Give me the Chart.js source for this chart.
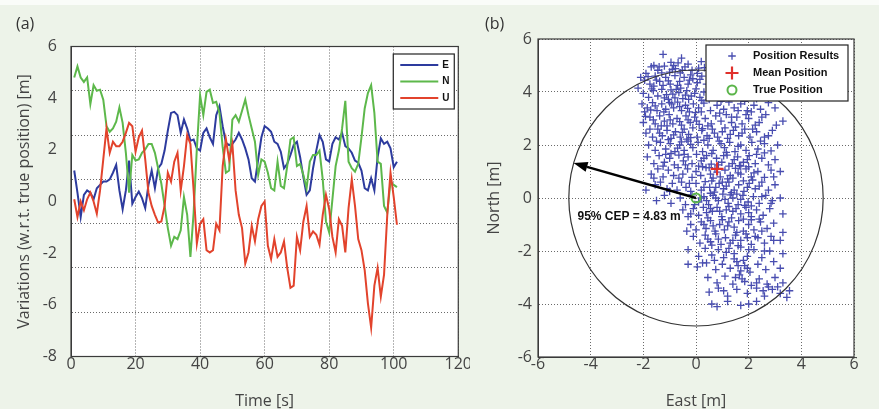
<!DOCTYPE html>
<html>
<head>
<meta charset="utf-8">
<script src="https://cdn.jsdelivr.net/npm/chart.js@4.4.1/dist/chart.umd.min.js"></script>
<style>
  html, body { margin: 0; padding: 0; }
  body { width: 879px; height: 409px; background: #edf3e9; position: relative; overflow: hidden; font-family: 'Open Sans', sans-serif; }
  .strip { position: absolute; left: 0; top: 0; width: 879px; height: 5px; background: #fafcf9; }
  .panel { position: absolute; top: 0; height: 409px; }
  #wrapA { left: 0; width: 470px; }
  #wrapB { left: 470px; width: 409px; }
  .tag { position: absolute; top: 12px; font-size: 16px; color: #333; }
</style>
</head>
<body>
<div class="strip"></div>
<div class="panel" id="wrapA"><canvas id="chartA" width="470" height="409"></canvas></div>
<div class="panel" id="wrapB"><canvas id="chartB" width="409" height="409"></canvas></div>
<div class="tag" style="left:16px">(a)</div>
<div class="tag" style="left:485px">(b)</div>
<script>
// (a) ENU variations over time, one sample per second
const TIME = [1,2,3,4,5,6,7,8,9,10,11,12,13,14,15,16,17,18,19,20,
  21,22,23,24,25,26,27,28,29,30,31,32,33,34,35,36,37,38,39,40,
  41,42,43,44,45,46,47,48,49,50,51,52,53,54,55,56,57,58,59,60,
  61,62,63,64,65,66,67,68,69,70,71,72,73,74,75,76,77,78,79,80,
  81,82,83,84,85,86,87,88,89,90,91,92,93,94,95,96,97,98,99,100,101];

const EAST = [0.4,-0.6,-1.7,-0.7,-0.5,-0.6,-0.9,-0.4,-0.25,-0.1,
  -0.1,0.0,0.3,0.65,-0.5,-1.35,-0.5,0.85,-1.1,-0.8,
  -0.55,-0.85,-1.3,-0.25,0.4,-0.4,0.5,0.7,1.3,2.2,
  3.0,3.05,2.9,2.1,2.7,2.3,1.75,1.8,1.4,1.3,
  2.1,2.3,1.9,1.6,2.9,3.3,2.4,1.65,1.55,1.6,
  1.8,2.1,1.8,1.4,0.9,0.05,-0.1,0.9,1.9,2.4,
  2.3,2.15,1.7,1.6,1.25,0.5,0.7,1.1,1.55,1.7,
  1.0,0.1,-0.7,-0.5,0.5,1.3,2.0,1.7,0.9,0.8,
  1.6,1.9,1.8,2.1,1.5,1.4,1.2,0.85,0.75,0.4,
  -0.4,-0.5,0.05,-0.5,1.0,1.85,1.6,1.7,1.4,0.55,
  0.8];

const NORTH = [4.6,5.1,4.6,4.4,4.6,3.4,4.25,4.0,4.05,3.6,
  2.4,2.15,2.3,2.6,3.25,2.55,1.2,-0.6,1.1,0.85,
  0.9,1.2,1.35,1.6,1.6,1.2,0.5,-0.2,-1.2,-2.2,
  -3.0,-2.6,-2.7,-2.3,-0.8,-1.6,-3.5,-1.5,1.4,3.8,
  2.9,3.95,4.05,3.45,3.5,3.0,1.45,0.3,0.4,2.7,
  2.9,2.6,3.1,3.6,2.9,2.3,1.7,0.2,0.9,0.8,
  0.3,-0.4,-0.5,0.8,-0.3,-0.4,0.6,1.8,1.9,0.6,
  0.7,0.2,-0.4,0.8,1.1,1.1,1.3,0.0,-1.9,-2.4,
  -0.9,0.6,1.3,2.3,3.55,0.8,0.5,0.35,0.7,1.9,
  3.2,3.9,4.25,3.0,0.8,0.7,-1.2,-1.5,-0.1,-0.25,
  -0.35];

const UP = [-0.9,-1.7,-1.0,-1.4,-0.9,-0.6,-1.0,-1.55,-0.5,0.9,
  2.3,1.2,1.7,1.5,1.5,1.7,2.1,2.55,2.4,1.25,
  1.9,2.2,0.9,-0.6,-1.2,-1.6,-1.95,-1.9,-1.2,0.3,
  -0.1,0.8,1.2,-0.5,0.6,2.0,1.6,-0.5,-2.9,-2.0,
  -1.8,-3.2,-3.3,-3.2,-2.0,-2.3,0.6,1.8,0.9,1.6,
  -0.5,-1.6,-2.2,-3.8,-3.3,-2.1,-2.8,-1.8,-1.2,-1.0,
  -3.0,-3.6,-2.7,-3.5,-3.3,-2.8,-4.0,-4.9,-4.8,-2.6,
  -3.2,-1.9,-1.2,-2.6,-2.35,-2.5,-2.95,-1.6,-0.7,-1.35,
  -2.6,-3.3,-1.8,-2.1,-3.3,-1.3,0.0,-1.2,-2.7,-3.2,
  -4.1,-5.6,-6.7,-4.8,-4.0,-5.3,-4.3,-1.6,0.3,-0.8,
  -2.05];

// tick labels printed down the left side of (a)
const Y_LABELS_A = ['6', '4', '2', '0', '-2', '-6', '-8'];

// (b) horizontal position fixes [east, north] in metres
const POSITIONS = [
  [-1.25,5.42],[-0.55,5.28],[-0.95,5.12],[-0.3,5.05],[0.2,5.15],[-1.6,5.0],
  [-1.9,4.7],[-1.7,4.95],[-1.45,4.82],[-1.2,4.98],[-1.0,4.75],[-0.78,4.88],[-0.6,4.72],[-0.42,4.95],
  [-0.15,4.82],[0.05,4.7],[0.32,4.92],[0.6,4.78],[-1.3,4.72],[-0.85,5.0],[0.85,4.85],[-2.1,4.55],
  [-2.2,4.15],[-1.95,4.45],[-1.75,4.3],[-1.55,4.6],[-1.38,4.4],[-1.15,4.55],[-0.98,4.3],[-0.8,4.62],
  [-0.62,4.4],[-0.45,4.55],[-0.3,4.3],[-0.12,4.5],[0.05,4.35],[0.22,4.6],[0.4,4.3],[-1.6,4.22],
  [-1.25,4.25],[-0.7,4.25],[-0.2,4.65],[0.55,4.5],
  [-2.0,3.95],[-1.8,3.8],[-1.62,4.05],[-1.45,3.85],[-1.3,4.1],[-1.12,3.9],[-0.95,4.08],[-0.8,3.78],
  [-0.65,3.98],[-0.5,3.75],[-0.35,4.05],[-0.18,3.85],[0.0,4.12],[0.15,3.8],[0.3,4.0],[0.5,3.72],
  [-1.05,3.72],[-0.28,3.72],[1.0,3.75],[1.5,3.8],[2.3,3.75],[2.7,3.9],
  [-1.85,3.4],[-1.65,3.6],[-1.48,3.3],[-1.3,3.55],[-1.15,3.35],[-1.0,3.6],[-0.85,3.4],[-0.7,3.62],
  [-0.55,3.3],[-0.4,3.5],[-0.25,3.25],[-0.1,3.55],[0.1,3.4],[0.3,3.58],[0.55,3.3],[0.8,3.5],
  [1.05,3.35],[1.25,3.62],[1.45,3.4],[1.7,3.55],[1.95,3.3],[2.2,3.5],[2.45,3.35],[2.75,3.6],
  [3.0,3.4],[-1.95,3.25],[0.95,3.65],[1.85,3.65],
  [-2.0,2.85],[-1.75,3.05],[-1.55,2.8],[-1.38,3.1],[-1.2,2.9],[-1.02,3.15],[-0.88,2.8],[-0.72,3.0],
  [-0.55,2.75],[-0.38,3.1],[-0.22,2.85],[-0.05,3.05],[0.12,2.78],[0.35,3.0],[0.58,2.8],[0.75,3.1],
  [0.95,2.9],[1.15,3.15],[1.35,2.85],[1.55,3.05],[1.75,2.8],[2.0,3.0],[2.25,2.75],[2.5,3.05],
  [3.3,2.9],[3.05,2.75],[-1.1,2.72],[0.45,2.72],[1.9,3.15],
  [-1.9,2.45],[-1.65,2.3],[-1.45,2.6],[-1.28,2.35],[-1.1,2.55],[-0.95,2.25],[-0.78,2.5],[-0.6,2.3],
  [-0.45,2.6],[-0.28,2.4],[-0.12,2.65],[0.05,2.3],[0.22,2.55],[0.42,2.35],[0.62,2.6],[0.82,2.3],
  [1.0,2.5],[1.2,2.25],[1.42,2.55],[1.62,2.35],[1.85,2.6],[2.05,2.3],[2.3,2.5],[2.6,2.3],
  [2.9,2.55],[-0.35,2.22],[0.7,2.45],[1.5,2.68],
  [-1.8,2.0],[-1.55,1.8],[-1.35,2.1],[-1.15,1.85],[-0.98,2.05],[-0.8,1.75],[-0.62,2.0],[-0.45,1.8],
  [-0.3,2.15],[-0.12,1.9],[0.08,2.1],[0.25,1.75],[0.45,2.0],[0.65,1.8],[0.88,2.15],[1.08,1.9],
  [1.28,2.1],[1.48,1.75],[1.7,2.0],[1.9,1.8],[2.12,2.1],[2.35,1.85],[2.6,2.05],[2.85,1.78],
  [3.1,2.0],[-0.55,2.12],[1.15,1.72],[0.3,2.18],
  [-1.85,1.55],[-1.6,1.3],[-1.4,1.6],[-1.2,1.35],[-1.0,1.5],[-0.82,1.25],[-0.65,1.62],[-0.48,1.4],
  [-0.3,1.55],[-0.15,1.3],[0.02,1.65],[0.2,1.4],[0.4,1.6],[0.58,1.28],[0.78,1.5],[0.98,1.35],
  [1.18,1.62],[1.38,1.3],[1.58,1.55],[1.8,1.35],[2.02,1.6],[2.25,1.3],[2.5,1.5],[2.75,1.25],
  [3.0,1.45],[-0.95,1.68],[0.6,1.68],[1.65,1.22],
  [-1.7,0.9],[-1.45,1.1],[-1.25,0.8],[-1.05,1.05],[-0.85,0.85],[-0.68,1.15],[-0.5,0.9],[-0.32,1.1],
  [-0.15,0.78],[0.0,1.0],[0.18,0.85],[0.38,1.15],[0.55,0.9],[0.72,1.1],[0.92,0.8],[1.1,1.05],
  [1.3,0.85],[1.5,1.12],[1.7,0.9],[1.9,1.1],[2.1,0.8],[2.35,1.0],[2.6,0.78],[2.85,1.05],
  [3.2,1.0],[1.2,0.72],[0.25,1.18],[2.0,1.18],
  [-1.9,0.3],[-1.55,0.5],[-1.35,0.6],[-1.1,0.35],[-0.9,0.55],[-0.72,0.3],[-0.55,0.6],[-0.38,0.4],
  [-0.2,0.25],[0.0,0.55],[0.2,0.3],[0.35,0.62],[0.52,0.4],[0.7,0.22],[0.88,0.55],[1.05,0.35],
  [1.25,0.6],[1.45,0.3],[1.62,0.5],[1.82,0.25],[2.02,0.55],[2.25,0.35],[2.5,0.6],[2.75,0.3],
  [3.0,0.5],[0.6,0.65],[1.35,0.2],[2.15,0.68],
  [-1.5,-0.1],[-1.2,0.1],[-0.95,-0.2],[-0.6,0.0],[-0.4,-0.25],[-0.15,0.12],[0.1,-0.15],[0.3,0.05],
  [0.48,-0.25],[0.65,0.1],[0.85,-0.1],[1.02,0.15],[1.22,-0.2],[1.4,0.0],[1.6,-0.25],[1.78,0.1],
  [1.98,-0.15],[2.18,0.05],[2.4,-0.2],[2.65,0.1],[2.9,-0.1],[3.2,0.0],[0.55,0.18],[1.85,-0.28],
  [-0.5,-0.45],[-0.3,-0.7],[-0.1,-0.4],[0.1,-0.65],[0.28,-0.35],[0.45,-0.75],[0.62,-0.5],[0.8,-0.35],
  [0.98,-0.7],[1.15,-0.45],[1.35,-0.75],[1.52,-0.4],[1.7,-0.6],[1.9,-0.35],[2.1,-0.7],[2.3,-0.45],
  [2.55,-0.65],[2.8,-0.4],[3.3,-0.6],[0.4,-0.55],[1.25,-0.32],[2.0,-0.55],
  [-0.2,-1.0],[0.0,-1.2],[0.2,-0.9],[0.38,-1.15],[0.55,-0.85],[0.72,-1.25],[0.9,-1.0],[1.08,-1.2],
  [1.25,-0.9],[1.45,-1.1],[1.62,-0.85],[1.8,-1.25],[2.0,-1.0],[2.2,-1.2],[2.45,-0.9],[2.7,-1.15],
  [2.95,-0.95],[3.3,-1.3],[-0.35,-1.25],[1.0,-0.82],[2.1,-0.82],
  [-0.1,-1.45],[0.15,-1.7],[0.35,-1.4],[0.55,-1.65],[0.75,-1.35],[0.95,-1.75],[1.12,-1.5],[1.3,-1.7],
  [1.5,-1.4],[1.7,-1.6],[1.9,-1.35],[2.1,-1.75],[2.35,-1.5],[2.6,-1.7],[2.85,-1.45],[3.2,-1.6],
  [0.6,-1.78],[1.6,-1.8],
  [-0.3,-1.95],[0.1,-2.2],[0.35,-1.9],[0.6,-2.15],[0.85,-1.95],[1.05,-2.25],[1.25,-1.9],[1.45,-2.1],
  [1.7,-1.85],[1.95,-2.2],[2.2,-1.95],[2.5,-2.25],[2.8,-2.0],[3.3,-2.1],[1.15,-2.05],
  [-0.3,-2.5],[0.05,-2.6],[0.4,-2.45],[0.75,-2.7],[1.0,-2.5],[1.3,-2.65],[1.55,-2.4],[1.7,-2.75],
  [1.85,-2.55],[2.05,-2.8],[2.35,-2.5],[2.65,-2.7],[2.95,-2.4],[3.2,-2.65],[1.6,-2.55],
  [0.45,-3.0],[0.8,-3.2],[1.1,-2.95],[1.4,-3.25],[1.65,-2.9],[1.85,-3.15],[2.1,-3.3],[2.4,-3.05],
  [2.7,-3.25],[3.0,-3.0],[3.3,-3.2],[1.75,-3.05],
  [0.5,-3.55],[0.85,-3.4],[1.2,-3.7],[1.55,-3.45],[1.95,-3.6],[2.3,-3.4],[2.6,-3.7],[2.9,-3.45],
  [3.2,-3.6],[3.55,-3.5],[3.45,-3.75],[2.75,-3.35],
  [0.6,-4.0],[0.8,-4.1],[1.2,-3.9],[1.7,-4.05],[2.3,-3.9],[2.0,-4.0],
  [-1.82,4.58],[-1.5,4.45],[-1.05,4.42],[-0.9,4.85],[-0.52,4.82],[-0.25,4.45],[0.15,4.48],[-1.68,4.12],
  [-1.2,3.78],[-0.88,3.92],[-0.58,4.15],[-0.4,3.88],[-0.05,3.95],[0.22,3.68],[-1.55,3.48],[-1.22,3.25],
  [-0.92,3.55],[-0.62,3.45],[-0.32,3.38],[-0.02,3.22],[0.2,3.25],[-1.62,2.95],[-1.32,2.72],[-0.98,2.95],
  [-0.62,2.88],[-0.3,2.95],[0.02,2.9],[0.25,2.62],[-1.75,2.6],[-1.38,2.45],[-0.85,2.38],[-0.52,2.48],
  [-0.2,2.28],[-1.5,2.15],[-1.05,2.2],[-0.7,1.88],[-0.2,2.02],[-2.05,3.55],[-1.92,3.08],[-1.72,3.32],
  [-0.75,4.1],[-1.4,4.95],[-0.68,5.1],[0.1,4.9],
  [0.9,3.2],[1.35,3.05],[1.6,3.3],[2.1,3.25],[2.4,2.85],[2.65,3.15],[1.1,2.65],[1.3,2.4],
  [1.75,2.45],[2.15,2.6],[2.45,2.15],[0.5,2.25],[0.95,2.05],[1.6,1.95],[2.3,1.65],[2.75,2.35],
  [-0.4,1.25],[0.1,1.2],[0.3,1.5],[0.5,1.15],[0.85,1.25],[1.05,1.6],[1.25,1.2],[1.45,1.45],
  [1.7,1.2],[1.95,1.45],[0.65,0.75],[0.8,0.98],[1.0,0.6],[1.4,0.75],[1.6,0.95],[1.8,0.65],
  [2.2,0.95],[0.3,0.4],[0.75,0.4],[1.15,0.45],[1.55,0.15],[1.95,0.4],[2.4,0.45],[0.2,0.0],
  [0.4,-0.1],[0.75,0.0],[1.1,-0.05],[1.3,0.12],[1.7,-0.05],[2.1,-0.3],[2.5,0.05],[0.55,-0.4],
  [0.9,-0.5],[1.4,-0.5],[1.8,-0.8],[2.4,-0.8],[0.3,-1.0],[0.65,-1.05],[1.2,-1.05],[1.55,-1.3],
  [1.95,-1.5],[2.5,-1.25],[0.45,-1.55],[0.85,-1.55],[1.4,-1.6],[2.0,-1.95],[2.25,-1.45],[0.25,-2.45],
  [0.7,-2.35],[1.45,-2.3],[1.8,-2.35],[2.6,-2.0],[1.95,-2.65],[2.3,-3.2],[2.55,-3.5],[3.1,-3.35],
  [1.5,-3.0],[1.05,-3.5],[-0.65,0.75],[-1.0,0.25],[-1.6,0.75],[-1.25,1.2],[-0.25,0.55],[-0.45,1.65],
  [-1.15,1.65],[2.6,1.7],[2.95,0.8],[2.85,-0.2],[2.95,-1.6],[-0.05,-0.25],[-0.2,-0.6]
];

const MEAN_POS = [0.8, 1.1];
const TRUE_POS = [0, 0];
const CEP_RADIUS = 4.83;
const ARROW_TIP = [-4.65, 1.32];
const CEP_LABEL_AT = [-4.5, -0.72];

Chart.defaults.font.family = "'Open Sans', sans-serif";
Chart.defaults.color = '#444';

const GRID = { color: '#6a6a6a', lineWidth: 1, drawTicks: false, borderDash: [1, 2] };
const BORDER = { display: true, color: '#3b3b3b', width: 1, dash: [1, 2] };
const TICK_FONT = { size: 16, lineHeight: 1.2 };
const TITLE_FONT = { size: 16, lineHeight: 1.2 };

// white plot area and the closed axes box
const plotFrame = {
  id: 'plotFrame',
  beforeDraw(chart) {
    const { ctx, chartArea: a } = chart;
    ctx.save();
    ctx.fillStyle = '#ffffff';
    ctx.fillRect(a.left, a.top, a.right - a.left, a.bottom - a.top);
    ctx.restore();
  },
  afterDatasetsDraw(chart) {
    const { ctx, chartArea: a } = chart;
    ctx.save();
    ctx.strokeStyle = '#3b3b3b';
    ctx.lineWidth = 1.2;
    ctx.strokeRect(a.left, a.top, a.right - a.left, a.bottom - a.top);
    ctx.restore();
  }
};

// boxed legend sitting in the upper-right corner of the plot
const boxLegend = {
  id: 'boxLegend',
  afterDraw(chart, args, o) {
    if (!o.width) return;
    const { ctx, chartArea: a } = chart;
    const x0 = a.right - o.right - o.width;
    const y0 = a.top + o.top;
    ctx.save();
    ctx.fillStyle = '#ffffff';
    ctx.fillRect(x0, y0, o.width, o.height);
    ctx.strokeStyle = '#222';
    ctx.lineWidth = 1.2;
    ctx.strokeRect(x0, y0, o.width, o.height);
    chart.data.datasets.forEach((ds, i) => {
      const cy = y0 + o.firstRow + i * o.rowGap;
      if (o.kind === 'line') {
        ctx.strokeStyle = ds.borderColor;
        ctx.lineWidth = ds.borderWidth;
        ctx.beginPath();
        ctx.moveTo(x0 + o.keyFrom, cy);
        ctx.lineTo(x0 + o.keyTo, cy);
        ctx.stroke();
      } else {
        const cx = x0 + o.keyAt;
        const r = ds.pointRadius;
        ctx.strokeStyle = ds.borderColor;
        ctx.lineWidth = ds.borderWidth;
        ctx.beginPath();
        if (ds.pointStyle === 'circle') {
          ctx.arc(cx, cy, r, 0, Math.PI * 2);
        } else {
          ctx.moveTo(cx - r, cy); ctx.lineTo(cx + r, cy);
          ctx.moveTo(cx, cy - r); ctx.lineTo(cx, cy + r);
        }
        ctx.stroke();
      }
      ctx.fillStyle = '#111';
      ctx.font = o.font;
      ctx.textBaseline = 'middle';
      ctx.textAlign = 'left';
      ctx.fillText(ds.label, x0 + o.textX, cy);
    });
    ctx.restore();
  }
};

// 95% CEP circle round the true position, radius arrow and its label
const cepOverlay = {
  id: 'cepOverlay',
  afterDatasetsDraw(chart) {
    const { ctx, scales: { x, y } } = chart;
    const cx = x.getPixelForValue(TRUE_POS[0]);
    const cy = y.getPixelForValue(TRUE_POS[1]);
    const rx = Math.abs(x.getPixelForValue(TRUE_POS[0] + CEP_RADIUS) - cx);
    const ry = Math.abs(y.getPixelForValue(TRUE_POS[1] + CEP_RADIUS) - cy);
    ctx.save();
    ctx.beginPath();
    ctx.ellipse(cx, cy, rx, ry, 0, 0, Math.PI * 2);
    ctx.strokeStyle = '#333';
    ctx.lineWidth = 1.2;
    ctx.stroke();

    const tx = x.getPixelForValue(ARROW_TIP[0]);
    const ty = y.getPixelForValue(ARROW_TIP[1]);
    const ang = Math.atan2(ty - cy, tx - cx);
    const head = 14, half = 5;
    const bx = tx - head * Math.cos(ang);
    const by = ty - head * Math.sin(ang);
    ctx.beginPath();
    ctx.moveTo(cx, cy);
    ctx.lineTo(bx, by);
    ctx.strokeStyle = '#000';
    ctx.lineWidth = 2.5;
    ctx.stroke();
    ctx.beginPath();
    ctx.moveTo(tx, ty);
    ctx.lineTo(bx + half * Math.sin(ang), by - half * Math.cos(ang));
    ctx.lineTo(bx - half * Math.sin(ang), by + half * Math.cos(ang));
    ctx.closePath();
    ctx.fillStyle = '#000';
    ctx.fill();

    ctx.font = 'bold 12px "Liberation Sans", Arial, sans-serif';
    ctx.textBaseline = 'middle';
    ctx.textAlign = 'left';
    ctx.fillStyle = '#111';
    ctx.fillText('95% CEP = ' + CEP_RADIUS.toFixed(2) + ' m',
      x.getPixelForValue(CEP_LABEL_AT[0]), y.getPixelForValue(CEP_LABEL_AT[1]));
    ctx.restore();
  }
};

const series = vals => vals.map((v, i) => ({ x: TIME[i], y: v }));

new Chart(document.getElementById('chartA'), {
  type: 'line',
  data: {
    datasets: [
      { label: 'E', data: series(EAST), borderColor: '#2d3b9e', borderWidth: 2, pointRadius: 0, tension: 0, order: 3, yAxisID: 'y' },
      { label: 'N', data: series(NORTH), borderColor: '#5db84b', borderWidth: 2, pointRadius: 0, tension: 0, order: 2, yAxisID: 'y' },
      { label: 'U', data: series(UP), borderColor: '#e2432c', borderWidth: 2, pointRadius: 0, tension: 0, order: 1, yAxisID: 'y' }
    ]
  },
  options: {
    responsive: false,
    animation: false,
    devicePixelRatio: 1,
    layout: { padding: { left: 0, top: 46.5, right: 7, bottom: 0 }, autoPadding: false },
    plugins: {
      legend: { display: false },
      tooltip: { enabled: false },
      boxLegend: { kind: 'line', width: 61, height: 55, right: 4, top: 7.5, firstRow: 11, rowGap: 16.5,
        keyFrom: 7, keyTo: 45, textX: 49, font: 'bold 10px "Liberation Sans", Arial, sans-serif' }
    },
    scales: {
      x: {
        type: 'linear', min: 0, max: 120,
        ticks: { stepSize: 20, padding: -2, font: TICK_FONT },
        grid: GRID, border: BORDER,
        title: { display: true, text: 'Time [s]', font: { size: 16, lineHeight: 1 }, padding: 0 },
        afterFit: s => { s.height = 52.5; }
      },
      yl: {
        type: 'category', labels: Y_LABELS_A, position: 'left', weight: 1,
        grid: { display: false }, border: { display: false },
        ticks: { padding: 6, autoSkip: false, font: TICK_FONT },
        title: { display: true, text: 'Variations (w.r.t. true position) [m]', font: TITLE_FONT, padding: { top: 15, bottom: 0 } },
        afterFit: s => { s.width = 71; }
      },
      y: {
        type: 'linear', min: -8, max: 6, position: 'left', weight: 0,
        ticks: { stepSize: 2, display: false },
        grid: GRID, border: BORDER,
        afterFit: s => { s.width = 0; }
      }
    }
  },
  plugins: [plotFrame, boxLegend]
});

// lower order is painted later, so the mean and true markers sit above the cloud
new Chart(document.getElementById('chartB'), {
  type: 'scatter',
  data: {
    datasets: [
      { label: 'Position Results', data: POSITIONS.map(p => ({ x: p[0], y: p[1] })), order: 3,
        pointStyle: 'cross', pointRadius: 3.8, borderColor: '#484db0', borderWidth: 1.3 },
      { label: 'Mean Position', data: [{ x: MEAN_POS[0], y: MEAN_POS[1] }], order: 2,
        pointStyle: 'cross', pointRadius: 6.5, borderColor: '#e0302b', borderWidth: 2.2 },
      { label: 'True Position', data: [{ x: TRUE_POS[0], y: TRUE_POS[1] }], order: 1,
        pointStyle: 'circle', pointRadius: 4.5, borderColor: '#5bb54a', backgroundColor: 'rgba(0,0,0,0)', borderWidth: 2 }
    ]
  },
  options: {
    responsive: false,
    animation: false,
    devicePixelRatio: 1,
    layout: { padding: { left: 0, top: 39, right: 25, bottom: 0 }, autoPadding: false },
    plugins: {
      legend: { display: false },
      tooltip: { enabled: false },
      boxLegend: { kind: 'marker', width: 142, height: 56, right: 6, top: 6, firstRow: 11, rowGap: 17,
        keyAt: 26, textX: 47, font: 'bold 11px "Liberation Sans", Arial, sans-serif' }
    },
    scales: {
      x: {
        type: 'linear', min: -6, max: 6,
        ticks: { stepSize: 2, padding: -2, font: TICK_FONT },
        grid: GRID, border: BORDER,
        title: { display: true, text: 'East [m]', font: { size: 16, lineHeight: 1 }, padding: 0 },
        afterFit: s => { s.height = 52; }
      },
      y: {
        type: 'linear', min: -6, max: 6,
        ticks: { stepSize: 2, padding: 6, font: TICK_FONT },
        grid: GRID, border: BORDER,
        title: { display: true, text: 'North [m]', font: TITLE_FONT, padding: { top: 15, bottom: 0 } },
        afterFit: s => { s.width = 68; }
      }
    }
  },
  plugins: [plotFrame, cepOverlay, boxLegend]
});
</script>
</body>
</html>
